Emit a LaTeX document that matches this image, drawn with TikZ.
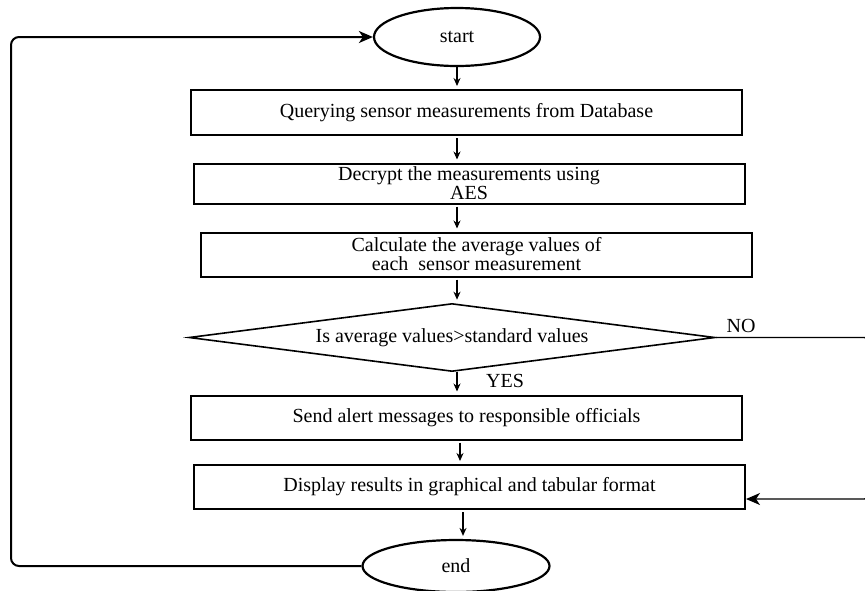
\documentclass[tikz,border=0pt]{standalone}
\usepackage{fontspec}
\setmainfont{Liberation Serif}
\usetikzlibrary{shapes.geometric, arrows.meta, positioning}
\tikzstyle{startstop} = [ellipse, minimum width=83pt, minimum height=29pt, inner sep=0pt, text centered, draw=black, line width=1.1pt]
\tikzstyle{process} = [rectangle, minimum width=275.5pt, minimum height=22pt, inner sep=0pt, text centered, align=center, draw=black, line width=1pt, font=\fontsize{10}{9.5}\selectfont]
\tikzstyle{decision} = [diamond, shape aspect=7.7, minimum width=263pt, minimum height=34pt, inner sep=0pt, text centered, draw=black, line width=0.8pt]
\tikzstyle{arrow} = [line width=0.6pt, -{Stealth[length=4pt, width=3.5pt]}, shorten <=1pt, shorten >=1.5pt]
\tikzstyle{loopline} = [line width=1pt, rounded corners=4pt, -{Stealth[length=7pt, width=6pt, inset=2pt]}]

\begin{document}
\begin{tikzpicture}[x=0.5pt, y=-0.5pt, node distance=36pt, font=\fontsize{10}{11}\selectfont]
\useasboundingbox (0,0) rectangle (865,590);

\node (start) [startstop] at (457,37) {start};
\node (b1) [process, below of=start, yshift=-1.75pt, xshift=4.75pt, minimum height=22.5pt] {Querying sensor measurements from Database};
\node (b2) [process, below of=b1, yshift=0.5pt, xshift=1.25pt, minimum height=20pt] {Decrypt the measurements using\\AES};
\node (b3) [process, below of=b2, yshift=0.5pt, xshift=3.75pt] {Calculate the average values of\\each\ \ sensor measurement};
\node (dec) [decision, below of=b3, yshift=-5.5pt, xshift=-12.25pt] {Is average values>standard values};
\node (b4) [process, below of=dec, yshift=-4pt, xshift=7.25pt] {Send alert messages to responsible officials};
\node (b5) [process, below of=b4, yshift=1.25pt, xshift=1.5pt, minimum height=22pt] {Display results in graphical and tabular format};
\node (stop) [startstop, below of=b5, yshift=-3.5pt, xshift=-6.75pt, minimum width=93.5pt, minimum height=26pt] {end};

\node (nolbl) at (741,326) {NO};
\node (yeslbl) at (505,381) {YES};

\coordinate (leftturn) at (11,300);
\coordinate (rightturn) at (872,420);

\draw [arrow, shorten <=0pt] (start.south) -- (b1.north -| start.south);
\draw [arrow] (b1.south -| start) -- (b2.north -| start);
\draw [arrow] (b2.south -| start) -- (b3.north -| start);
\draw [arrow] (b3.south -| start) -- (dec.north -| start);
\draw [arrow, shorten <=0pt] (dec.south -| start) -- (b4.north -| start);
\draw [arrow] ([xshift=1.5pt]b4.south -| start) -- ([xshift=1.5pt]b5.north -| start);
\draw [arrow] ([xshift=3pt]b5.south -| start) -- ([xshift=3pt]stop.north -| start);
\draw [loopline] (stop.west) -| (leftturn) |- (start.west);
\draw [loopline, line width=0.7pt] (dec.east) -| (rightturn) |- ([yshift=-6pt]b5.east);
\end{tikzpicture}
\end{document}
